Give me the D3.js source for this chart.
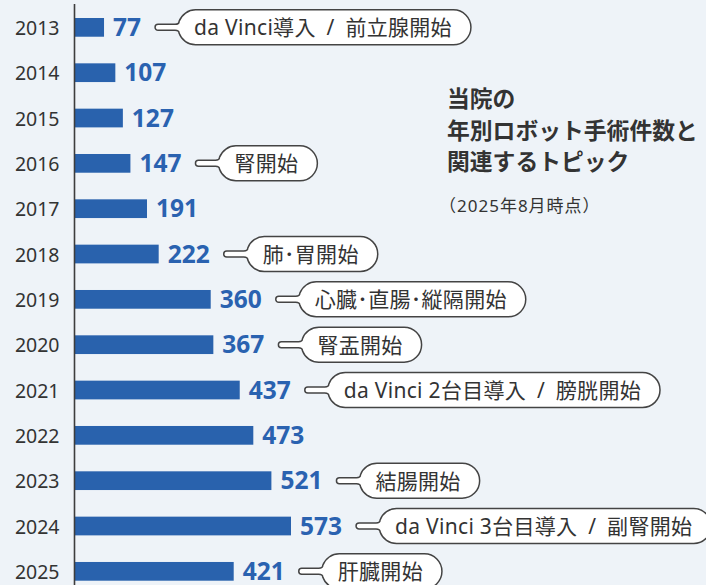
<!DOCTYPE html>
<html>
<head>
<meta charset="utf-8">
<script src="https://cdn.jsdelivr.net/npm/d3@7"></script>
<style>
  html, body { margin: 0; padding: 0; background: #eef3f8; }
  svg { display: block; font-family: "Noto Sans", "Noto Sans CJK JP", sans-serif; }
</style>
</head>
<body>
<div id="chart"></div>
<script>
// Robot surgery counts by year, with topic callouts

const years = ["2013", "2014", "2015", "2016", "2017", "2018", "2019",
  "2020", "2021", "2022", "2023", "2024", "2025"];
const counts = [77, 107, 127, 147, 191, 222, 360, 367, 437, 473, 521, 573, 421];
const topics = ["da Vinci導入\u2002/\u2002前立腺開始", "", "", "腎開始", "", "肺･胃開始",
  "心臓･直腸･縦隔開始", "腎盂開始", "da Vinci 2台目導入\u2002/\u2002膀胱開始", "",
  "結腸開始", "da Vinci 3台目導入\u2002/\u2002副腎開始", "肝臓開始"];
const titleLines = ["当院の", "年別ロボット手術件数と", "関連するトピック"];
const subTitle = "（2025年8月時点）";

const w = 706, h = 585;
const barColor = "#2962ad";
const inkColor = "#333333";
const fontMix = "'Noto Sans', 'Noto Sans CJK JP', sans-serif";

const svg = d3.select("#chart").
append("svg").
attr("width", w).
attr("height", h);

svg.append("rect").
attr("width", w).
attr("height", h).
attr("fill", "#eef3f8");

const df = years.map((y, i) => ({ year: y, count: counts[i], topic: topics[i] }));

// Scales
const xScale = d3.scaleLinear().
domain([0, 573]).
range([75, 291]);

const yScale = d3.scaleBand().
domain(years).
range([18, 580.7]).
paddingInner(0.587).
paddingOuter(0);

const bw = yScale.bandwidth();
const cy = d => yScale(d.year) + bw / 2;

// Bars
svg.selectAll("rect.bar").
data(df).
join("rect").
attr("class", "bar").
attr("x", xScale(0)).
attr("y", d => yScale(d.year)).
attr("width", d => xScale(d.count) - xScale(0)).
attr("height", bw).
attr("fill", barColor);

// Axis line (left) with year labels
const yAxis = d3.axisLeft(yScale).
tickSize(0).
tickPadding(15);

const gy = svg.append("g").
attr("transform", `translate(${xScale(0) - 0.5} 0)`).
call(yAxis);

gy.select(".domain").
attr("d", `M0,4V${h}`).
attr("stroke", "#3d3d3d").
attr("stroke-width", 1.6);

gy.selectAll("text").
attr("font-family", fontMix).
attr("font-size", 19.5).
attr("fill", inkColor).
attr("dy", null).
attr("dominant-baseline", "central");

// Value labels
const labels = svg.selectAll("text.value").
data(df).
join("text").
attr("class", "value").
attr("x", d => xScale(d.count) + 9).
attr("y", d => cy(d) + 8.7).
attr("font-family", fontMix).
attr("font-size", 24.5).
attr("font-weight", 700).
attr("fill", "#2a62b0").
text(d => d.count);

// Callout pills with a tail
const pillH = 35, r = pillH / 2, tailT = 6, tailLen = 23;
const padL = 16, padR = 19;

labels.each(function (d) {
  if (!d.topic) return;
  const bb = this.getBBox();
  const tx = bb.x + bb.width + 14;
  const x0 = tx + tailLen;
  const yc = cy(d);

  const g = svg.append("g");
  const t = g.append("text").
  attr("x", x0 + padL).
  attr("y", yc).
  attr("dominant-baseline", "central").
  attr("font-family", fontMix).
  attr("font-size", 21).
  attr("letter-spacing", 0.3).
  attr("fill", inkColor).
  text(d.topic);
  const x1 = x0 + padL + t.node().getComputedTextLength() + padR;

  const cx = x0 + r;
  const jy = 6;
  const jx = cx - Math.sqrt(r * r - jy * jy);
  const p = `M${tx + tailT / 2},${yc - tailT / 2}` +
  `L${x0 - 3},${yc - tailT / 2}` +
  `Q${x0 + 1},${yc - tailT / 2} ${jx},${yc - jy}` +
  `A${r},${r} 0 0 1 ${cx},${yc - r}` +
  `L${x1 - r},${yc - r}` +
  `A${r},${r} 0 0 1 ${x1 - r},${yc + r}` +
  `L${cx},${yc + r}` +
  `A${r},${r} 0 0 1 ${jx},${yc + jy}` +
  `Q${x0 + 1},${yc + tailT / 2} ${x0 - 3},${yc + tailT / 2}` +
  `L${tx + tailT / 2},${yc + tailT / 2}` +
  `A${tailT / 2},${tailT / 2} 0 0 1 ${tx + tailT / 2},${yc - tailT / 2}Z`;

  g.insert("path", "text").
  attr("d", p).
  attr("fill", "#ffffff").
  attr("stroke", "#444444").
  attr("stroke-width", 1.5);
});

// Title
const title = svg.append("text").
attr("font-family", "'Noto Sans CJK JP', sans-serif").
attr("font-size", 22.8).
attr("font-weight", 700).
attr("fill", inkColor);

title.selectAll("tspan").
data(titleLines).
join("tspan").
attr("x", 447).
attr("y", (d, i) => 107 + i * 31.7).
text(d => d);

svg.append("text").
attr("x", 439).
attr("y", 212).
attr("font-family", fontMix).
attr("font-size", 17).
attr("letter-spacing", 1).
attr("fill", inkColor).
text(subTitle);
</script>
</body>
</html>
